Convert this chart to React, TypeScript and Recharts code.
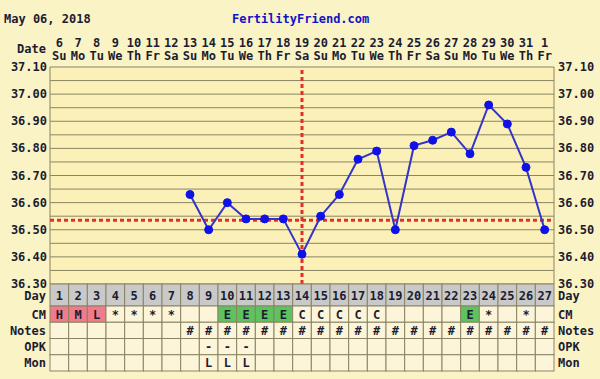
import { ComposedChart, Line, XAxis, YAxis, CartesianGrid, ReferenceLine } from "recharts";

// cycle data
const cycleDays = [1, 2, 3, 4, 5, 6, 7, 8, 9, 10, 11, 12, 13, 14, 15, 16, 17, 18, 19, 20, 21, 22, 23, 24, 25, 26, 27];
const dates = [6, 7, 8, 9, 10, 11, 12, 13, 14, 15, 16, 17, 18, 19, 20, 21, 22, 23, 24, 25, 26, 27, 28, 29, 30, 31, 1];
const weekdays = ["Su", "Mo", "Tu", "We", "Th", "Fr", "Sa", "Su", "Mo", "Tu", "We", "Th", "Fr", "Sa", "Su", "Mo", "Tu", "We", "Th", "Fr", "Sa", "Su", "Mo", "Tu", "We", "Th", "Fr"];
const temps: (number | null)[] = [
  null, null, null, null, null, null, null,
  36.63, 36.5, 36.6, 36.54, 36.54, 36.54, 36.41, 36.55, 36.63, 36.76, 36.79, 36.5,
  36.81, 36.83, 36.86, 36.78, 36.96, 36.89, 36.73, 36.5,
];
const cm = ["H", "M", "L", "*", "*", "*", "*", "", "", "E", "E", "E", "E", "C", "C", "C", "C", "C", "", "", "", "", "E", "*", "", "*", ""];
const notes = ["", "", "", "", "", "", "", "#", "#", "#", "#", "#", "#", "#", "#", "#", "#", "#", "#", "#", "#", "#", "#", "#", "#", "#", "#"];
const opk = ["", "", "", "", "", "", "", "", "-", "-", "-", "", "", "", "", "", "", "", "", "", "", "", "", "", "", "", ""];
const mon = ["", "", "", "", "", "", "", "", "L", "L", "L", "", "", "", "", "", "", "", "", "", "", "", "", "", "", "", ""];
const yTicks = [36.3, 36.35, 36.4, 36.45, 36.5, 36.55, 36.6, 36.65, 36.7, 36.75, 36.8, 36.85, 36.9, 36.95, 37.0, 37.05, 37.1];
const coverline = 36.535;
const ovulationDay = 14;

const W = 600;
const H = 379;
const LEFT_W = 50;
const RIGHT_W = 46;
const PLOT_W = W - LEFT_W - RIGHT_W;
const COL_W = PLOT_W / cycleDays.length;
const X_DOMAIN: [number, number] = [0.5, 27.5];
const DAY_ROW_H = 22;
const ROW_H = 16.25;
const FONT = "'DejaVu Sans Mono', monospace";
const INK = "#1c1c30";
const GRID = "#8a8462";
const PAGE_BG = "#faf3c6";
const PLOT_BG = "#fbf1b8";
const CELL_BG = "#fcf5da";
const DAY_BG = "#c9c9c9";

const CM_FILL: Record<string, string> = { H: "#ef7b8b", M: "#ef7b8b", L: "#ef7b8b", E: "#5ec25e" };

const data = cycleDays.map((d, i) => ({ day: d, temp: temps[i] }));
const gridX = [...cycleDays.map((d) => d - 0.5), cycleDays[cycleDays.length - 1] + 0.5];

const txt = { fontFamily: FONT, fontSize: 12, fontWeight: 700, fill: INK };

function rowTick(values: string[], rowH: number, label: string, fillFor: (v: string) => string) {
  return (props: any) => {
    const { x, y, payload } = props;
    const i = payload.value - 1;
    const v = values[i];
    const ty = y + rowH / 2 + 4.5;
    return (
      <g>
        <rect x={x - COL_W / 2} y={y} width={COL_W} height={rowH} fill={fillFor(v)} stroke={GRID} />
        <text x={x} y={ty} textAnchor="middle" {...txt}>{v}</text>
        {i === 0 && (
          <text x={x - COL_W / 2 - 4} y={ty} textAnchor="end" {...txt}>{label}</text>
        )}
        {i === cycleDays.length - 1 && (
          <text x={x + COL_W / 2 + 4} y={ty} textAnchor="start" {...txt}>{label}</text>
        )}
      </g>
    );
  };
}

const DateTick = (props: any) => {
  const { x, y, payload } = props;
  const i = payload.value - 1;
  return (
    <g>
      <text x={x} y={y - 20} textAnchor="middle" {...txt}>{dates[i]}</text>
      <text x={x} y={y - 7} textAnchor="middle" {...txt}>{weekdays[i]}</text>
      {i === 0 && (
        <text x={x - COL_W / 2 - 4} y={y - 14} textAnchor="end" {...txt}>Date</text>
      )}
    </g>
  );
};

const TempTick = (side: "left" | "right") => (props: any) => {
  const { x, y, payload, index } = props;
  if (index % 2 !== 0) return <g />;
  return (
    <text x={x} y={y + 4} textAnchor={side === "left" ? "end" : "start"} {...txt}>
      {Number(payload.value).toFixed(2)}
    </text>
  );
};

const cellBg = () => CELL_BG;

const rowAxis = { dataKey: "day", type: "number" as const, domain: X_DOMAIN, allowDataOverflow: true, ticks: cycleDays, interval: 0, tickSize: 0, tickMargin: 0, axisLine: false, tickLine: false };

export default function App() {
  return (
    <div style={{ position: "relative", width: W, height: H, background: PAGE_BG }}>
      <style>{`body{margin:0}`}</style>
      <div style={{ position: "absolute", left: 4, top: 12, font: `bold 12px ${FONT}`, lineHeight: "14px", color: INK }}>
        May 06, 2018
      </div>
      <div style={{ position: "absolute", left: 232, top: 12, font: `bold 12px ${FONT}`, lineHeight: "14px", color: "#1212c4" }}>
        FertilityFriend.com
      </div>
      <ComposedChart width={W} height={H} data={data} margin={{ top: 30, right: 0, bottom: 8, left: 0 }}>
        <CartesianGrid fill={PLOT_BG} stroke={GRID} strokeOpacity={1} />
        <XAxis
          dataKey="day"
          type="number"
          domain={X_DOMAIN}
          allowDataOverflow
          ticks={gridX}
          interval={0}
          height={0}
          tick={false}
          axisLine={false}
          tickLine={false}
        />
        <XAxis xAxisId="date" orientation="top" height={37} {...rowAxis} tick={DateTick} />
        <XAxis xAxisId="b1" height={DAY_ROW_H} {...rowAxis} tick={rowTick(cycleDays.map(String), DAY_ROW_H, "Day", () => DAY_BG)} />
        <XAxis xAxisId="b2" height={ROW_H} {...rowAxis} tick={rowTick(cm, ROW_H, "CM", (v) => CM_FILL[v] ?? CELL_BG)} />
        <XAxis xAxisId="b3" height={ROW_H} {...rowAxis} tick={rowTick(notes, ROW_H, "Notes", cellBg)} />
        <XAxis xAxisId="b4" height={ROW_H} {...rowAxis} tick={rowTick(opk, ROW_H, "OPK", cellBg)} />
        <XAxis xAxisId="b5" height={ROW_H} {...rowAxis} tick={rowTick(mon, ROW_H, "Mon", cellBg)} />
        <YAxis
          type="number"
          domain={[36.3, 37.1]}
          allowDataOverflow
          ticks={yTicks}
          interval={0}
          width={LEFT_W}
          tickSize={0}
          tickMargin={3}
          axisLine={false}
          tickLine={false}
          tick={TempTick("left")}
        />
        <YAxis
          yAxisId="right"
          orientation="right"
          type="number"
          domain={[36.3, 37.1]}
          allowDataOverflow
          ticks={yTicks}
          interval={0}
          width={RIGHT_W}
          tickSize={0}
          tickMargin={4}
          axisLine={false}
          tickLine={false}
          tick={TempTick("right")}
        />
        <ReferenceLine y={coverline} stroke="#e0302a" strokeWidth={3} strokeDasharray="4 3" />
        <ReferenceLine x={ovulationDay} stroke="#e0302a" strokeWidth={3} strokeDasharray="4 3" />
        <Line
          dataKey="temp"
          stroke="#3434c8"
          strokeWidth={2}
          dot={{ r: 4, fill: "#1010e8", stroke: "#1010e8", strokeWidth: 1 }}
          isAnimationActive={false}
        />
      </ComposedChart>
    </div>
  );
}
